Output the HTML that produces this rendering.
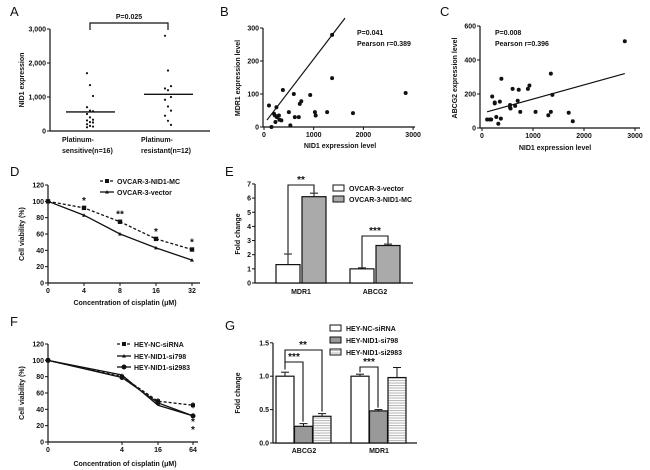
<!DOCTYPE html>
<html><head><meta charset="utf-8"><style>
body{margin:0;background:#fff}
svg{display:block;font-family:"Liberation Sans",Arial,sans-serif;font-weight:bold}
text{font-size:7px;fill:#111}
.lab{font-size:13px;font-weight:normal}
</style></head><body>
<svg id="fig" width="650" height="470" viewBox="0 0 650 470"></svg>
<script>
// Panel A
const aCats=["sensitive","resistant"];
const aSens=[1700,1350,1030,700,600,580,500,400,330,310,260,250,200,150,130,110];
const aRes=[2800,1780,1320,1250,1200,1000,920,720,600,450,300,180];
const aMeans=[560,1080];
const aTicks=[0,1000,2000,3000];
// Panel B
const bX=[100,150,200,220,250,260,300,310,350,380,230,500,530,600,620,700,720,750,930,1025,1040,1270,1370,1370,1790,2850];
const bY=[65,0,40,35,60,30,35,22,20,112,15,45,5,100,30,30,70,78,97,45,35,45,279,148,42,103];
const bLine=[[60,21],[1630,330]];
// Panel C
const cX=[100,150,180,200,250,280,320,350,370,380,550,560,600,650,700,720,750,900,930,1050,1300,1350,1350,1380,1700,1780,2800,550,250];
const cY=[50,50,50,185,145,65,25,155,55,290,135,115,230,130,160,225,95,230,250,95,75,320,95,195,90,40,510,120,150];
const cLine=[[100,95],[2800,320]];
// Panel D
const dCats=["0","4","8","16","32"];
const dMC=[100,92,75,54,41];
const dVec=[100,83,60,43,28];
const dStars=["","*","**","*","*"];
// Panel E
const eCats=["MDR1","ABCG2"];
const eVec=[1.3,1.0],eVecErr=[0.75,0.07];
const eMC=[6.1,2.65],eMCErr=[0.25,0.1];
// Panel F
const fCats=["0","4","16","64"];
const fNC=[100,80,50,45];
const f798=[100,82,45,32];
const f2983=[100,79,48,32];
// Panel G
const gCats=["ABCG2","MDR1"];
const gNC=[1.0,1.0],gNCErr=[0.06,0.03];
const g798=[0.25,0.48],g798Err=[0.04,0.02];
const g2983=[0.4,0.98],g2983Err=[0.04,0.15];

const S=document.getElementById('fig');const NS="http://www.w3.org/2000/svg";
function el(t,a,parent){const e=document.createElementNS(NS,t);for(const k in a)e.setAttribute(k,a[k]);(parent||S).appendChild(e);return e;}
function tx(x,y,s,anchor,extra){const e=el('text',Object.assign({x:x,y:y,'text-anchor':anchor||'start'},extra||{}));e.textContent=s;return e;}
function ln(x1,y1,x2,y2,w,dash){return el('line',{x1,y1,x2,y2,stroke:'#111','stroke-width':w||1,'stroke-dasharray':dash||'none'});}

const defs=el('defs',{});
const pat=el('pattern',{id:'stripe',width:4,height:2.5,patternUnits:'userSpaceOnUse'},defs);
el('rect',{width:4,height:2.5,fill:'#fff'},pat);el('rect',{width:4,height:1.1,fill:'#bbb'},pat);

[["A",10,16],["B",220,16],["C",440,16],["D",10,176],["E",225,176],["F",10,326],["G",225,330]].forEach(p=>{const t=tx(p[1],p[2],p[0],'start',{class:'lab'});});

function yAxis(x,yOf,ticks,fmt,top,bot){ln(x,top,x,bot,1.2);ticks.forEach(t=>{const y=yOf(t);ln(x-3,y,x,y,1);tx(x-4,y+2.5,fmt(t),'end');});}
function ytitle(x,y,s,name){const t=tx(x,y,s,'middle',{transform:`rotate(-90 ${x} ${y})`});}

// ---- A
{const y=v=>131-v*0.034;const xc=[90,168];
yAxis(50,y,aTicks,v=>v?v.toLocaleString('en-US'):"0",29,131);ln(50,131,210,131,1.2);
ytitle(24,80,"NID1 expression","a-y-axis-title");
[aSens,aRes].forEach((arr,i)=>{arr.forEach((v,j)=>{const c=el('circle',{cx:xc[i]+((j%3)-1)*3,cy:y(v),r:1.1,fill:'#111'});});
const m=el('line',{x1:xc[i]-24,x2:xc[i]+25,y1:y(aMeans[i]),y2:y(aMeans[i]),stroke:'#111','stroke-width':1.4});});
el('path',{d:`M90 30V23H168V30`,fill:'none',stroke:'#111','stroke-width':1.2});
tx(129,19,"P=0.025",'middle');
tx(62,142,"Platinum-");tx(62,153,"sensitive(n=16)");tx(141,142,"Platinum-");tx(141,153,"resistant(n=12)");}

// ---- B
{const x=v=>264+v*0.0497,y=v=>127-v*0.33;
yAxis(263,y,[0,100,200,300],String,28,127);ln(263,127,415,127,1.2);
[0,1000,2000,3000].forEach(t=>{ln(x(t),127,x(t),130);tx(x(t),137,String(t),'middle');});
ytitle(240,78,"MDR1 expression level","b-y-axis-title");tx(340,148,"NID1 expression level",'middle');
bX.forEach((v,i)=>{const c=el('circle',{cx:x(v),cy:y(bY[i]),r:2,fill:'#111'});});
const l=el('line',{x1:x(bLine[0][0]),y1:y(bLine[0][1]),x2:x(bLine[1][0]),y2:y(bLine[1][1]),stroke:'#111','stroke-width':1.2});
tx(357,35,"P=0.041");tx(357,46,"Pearson  r=0.389");}

// ---- C
{const x=v=>482+v*0.051,y=v=>128-v*0.17;
yAxis(480,y,[0,200,400,600],String,26,128);ln(480,128,640,128,1.2);
[0,1000,2000,3000].forEach(t=>{ln(x(t),128,x(t),131);tx(x(t),138,String(t),'middle');});
ytitle(457,78,"ABCG2 expression level","c-y-axis-title");tx(555,150,"NID1 expression level",'middle');
cX.forEach((v,i)=>{const c=el('circle',{cx:x(v),cy:y(cY[i]),r:2,fill:'#111'});});
const l=el('line',{x1:x(cLine[0][0]),y1:y(cLine[0][1]),x2:x(cLine[1][0]),y2:y(cLine[1][1]),stroke:'#111','stroke-width':1.2});
tx(495,35,"P=0.008");tx(495,46,"Pearson  r=0.396");}

// ---- D
{const y=v=>283-v*0.8167,xs=i=>48+i*36;
yAxis(48,y,[0,20,40,60,80,100,120],String,185,283);ln(48,283,200,283,1.2);
dCats.forEach((c,i)=>{ln(xs(i),283,xs(i),286);tx(xs(i),293,c,'middle');});
ytitle(24,234,"Cell viability (%)","d-y-axis-title");tx(125,305,"Concentration of cisplatin (\u03BCM)",'middle');
const p1=el('polyline',{points:dMC.map((v,i)=>xs(i)+','+y(v)).join(' '),fill:'none',stroke:'#111','stroke-width':1.3,'stroke-dasharray':'3,2'});
dMC.forEach((v,i)=>el('rect',{x:xs(i)-2.2,y:y(v)-2.2,width:4.4,height:4.4,fill:'#111'}));
const p2=el('polyline',{points:dVec.map((v,i)=>xs(i)+','+y(v)).join(' '),fill:'none',stroke:'#111','stroke-width':1.3});
dVec.forEach((v,i)=>el('path',{d:`M${xs(i)-2},${y(v)+1.5}L${xs(i)},${y(v)-2}L${xs(i)+2},${y(v)+1.5}Z`,fill:'#111'}));
dStars.forEach((s,i)=>{if(s)tx(xs(i),y(dMC[i])-4,s,'middle',{style:'font-size:10px'});});
ln(100,181,114,181,1.3,'3,2');el('rect',{x:105,y:179,width:4,height:4,fill:'#111'});tx(117,184,"OVCAR-3-NID1-MC");
ln(100,192,114,192,1.3);el('path',{d:'M105,193.5L107,190L109,193.5Z',fill:'#111'});tx(117,195,"OVCAR-3-vector");}

// ---- E
{const y=v=>283-v*14.15;const xw=[276,350],xg=[302,376],bw=24;
yAxis(255,y,[0,1,2,3,4,5,6,7],String,184,283);ln(255,283,413,283,1.2);
ytitle(240,234,"Fold change","e-y-axis-title");
eCats.forEach((c,i)=>{
const r1=el('rect',{x:xw[i],y:y(eVec[i]),width:bw,height:283-y(eVec[i]),fill:'#fff',stroke:'#111','stroke-width':1.2});
const r2=el('rect',{x:xg[i],y:y(eMC[i]),width:bw,height:283-y(eMC[i]),fill:'#aaa',stroke:'#111','stroke-width':1.2});
[[xw[i],eVec[i],eVecErr[i]],[xg[i],eMC[i],eMCErr[i]]].forEach(b=>{const cx=b[0]+bw/2;ln(cx,y(b[1]),cx,y(b[1]+b[2]));ln(cx-4,y(b[1]+b[2]),cx+4,y(b[1]+b[2]));});
tx((xw[i]+xg[i]+bw)/2,294,c,'middle');});
el('path',{d:`M288,${y(2.1)}V185H314V${y(6.4)}`,fill:'none',stroke:'#111','stroke-width':1.1});tx(301,183,"**",'middle',{style:'font-size:10px'});
el('path',{d:`M362,${y(1.1)}V236H388V${y(2.8)}`,fill:'none',stroke:'#111','stroke-width':1.1});tx(375,234,"***",'middle',{style:'font-size:10px'});
el('rect',{x:333,y:185,width:11,height:6,fill:'#fff',stroke:'#111'});tx(349,191,"OVCAR-3-vector");
el('rect',{x:333,y:196,width:11,height:6,fill:'#aaa',stroke:'#111'});tx(349,202,"OVCAR-3-NID1-MC");}

// ---- F
{const y=v=>442-v*0.8167,xv=[48,122,158,193];
yAxis(48,y,[0,20,40,60,80,100,120],String,344,442);ln(48,442,198,442,1.2);
fCats.forEach((c,i)=>{ln(xv[i],442,xv[i],445);tx(xv[i],452,c,'middle');});
ytitle(24,393,"Cell viability (%)","f-y-axis-title");tx(125,466,"Concentration of cisplatin (\u03BCM)",'middle');
[[fNC,'3,2','f-series-nc'],[f798,'none','f-series-si798'],[f2983,'none','f-series-si2983']].forEach(s=>{const p=el('polyline',{points:s[0].map((v,i)=>xv[i]+','+y(v)).join(' '),fill:'none',stroke:'#111','stroke-width':1.3,'stroke-dasharray':s[1]});});
fNC.forEach((v,i)=>{el('rect',{x:xv[i]-2,y:y(v)-2,width:4,height:4,fill:'#111'});ln(xv[i],y(v)-3,xv[i],y(v)+3);});
f2983.forEach((v,i)=>el('circle',{cx:xv[i],cy:y(v),r:2.5,fill:'#111'}));
tx(193,425,"*",'middle',{style:'font-size:10px'});tx(193,433,"*",'middle',{style:'font-size:10px'});
ln(117,344,131,344,1.3,'3,2');el('rect',{x:122,y:342,width:4,height:4,fill:'#111'});tx(134,347,"HEY-NC-siRNA");
ln(117,356,131,356,1.3);el('path',{d:'M122,357.5L124,354L126,357.5Z',fill:'#111'});tx(134,359,"HEY-NID1-si798");
ln(117,367,131,367,1.3);el('circle',{cx:124,cy:367,r:2.5,fill:'#111'});tx(134,370,"HEY-NID1-si2983");}

// ---- G
{const y=v=>443-v*66.8;const x0=[276,351],bw=18;const fills=['#fff','#999','url(#stripe)'];
yAxis(273,y,[0,0.5,1.0,1.5],v=>v.toFixed(1),343,443);ln(273,443,417,443,1.2);
ytitle(240,393,"Fold change","g-y-axis-title");
const sets=[[gNC,gNCErr,'nc'],[g798,g798Err,'si798'],[g2983,g2983Err,'si2983']];
gCats.forEach((c,i)=>{sets.forEach((s,k)=>{const bx=x0[i]+k*(bw+0.5);
const r=el('rect',{x:bx,y:y(s[0][i]),width:bw,height:443-y(s[0][i]),fill:fills[k],stroke:'#111','stroke-width':1.2});
const cx=bx+bw/2,t=y(s[0][i]+s[1][i]);ln(cx,y(s[0][i]),cx,t);ln(cx-4,t,cx+4,t);});
tx(x0[i]+28,453,c,'middle');});
el('path',{d:`M285,${y(1.1)}V362H303V${y(0.32)}`,fill:'none',stroke:'#111','stroke-width':1.1});tx(294,360,"***",'middle',{style:'font-size:10px'});
el('path',{d:`M285,362V350H322V${y(0.47)}`,fill:'none',stroke:'#111','stroke-width':1.1});tx(303,348,"**",'middle',{style:'font-size:10px'});
el('path',{d:`M360,${y(1.06)}V367H378V${y(0.53)}`,fill:'none',stroke:'#111','stroke-width':1.1});tx(369,365,"***",'middle',{style:'font-size:10px'});
['HEY-NC-siRNA','HEY-NID1-si798','HEY-NID1-si2983'].forEach((s,k)=>{el('rect',{x:330,y:325+k*12,width:11,height:6,fill:fills[k],stroke:'#111'});tx(346,331+k*12,s);});}
</script>
</body></html>
